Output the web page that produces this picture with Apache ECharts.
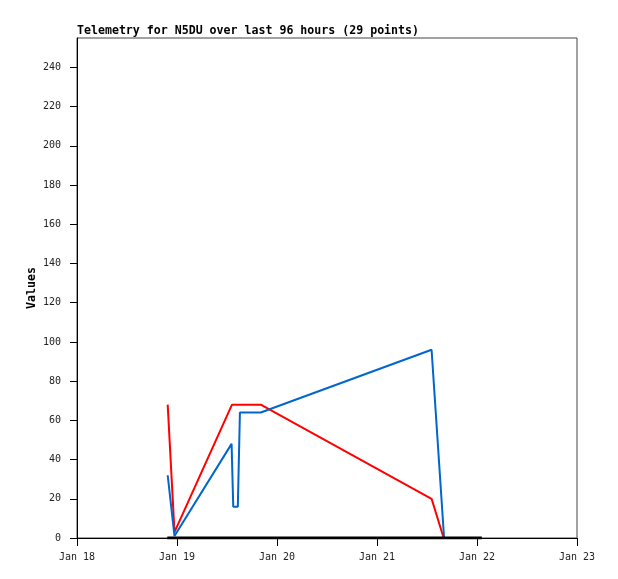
<!DOCTYPE html>
<html>
<head>
<meta charset="utf-8">
<script src="https://cdn.jsdelivr.net/npm/echarts@6/dist/echarts.min.js"></script>
<style>html,body{margin:0;padding:0;background:#fff}#c{width:618px;height:579px}</style>
</head>
<body>
<div id="c"></div>
<script>
// Data
var xTickLabels = ['Jan 18', 'Jan 19', 'Jan 20', 'Jan 21', 'Jan 22', 'Jan 23'];
var yTicks = [0, 20, 40, 60, 80, 100, 120, 140, 160, 180, 200, 220, 240];
var yAxisTitle = 'Values';

var redTimes  = ['2024-01-18 21:46', '2024-01-18 23:24', '2024-01-19 13:12', '2024-01-19 20:06', '2024-01-21 13:06', '2024-01-21 16:00'];
var redValues = [68, 3, 68, 68, 20, 0];

var blueTimes  = ['2024-01-18 21:46', '2024-01-18 23:24', '2024-01-19 13:06', '2024-01-19 13:30', '2024-01-19 14:36', '2024-01-19 15:06', '2024-01-19 20:06', '2024-01-21 13:06', '2024-01-21 16:06'];
var blueValues = [32, 1, 48, 16, 16, 64, 64, 96, 0];

var blackTimes  = ['2024-01-18 21:40', '2024-01-22 01:10'];
var blackValues = [0, 0];

function toMs(s) {
  var p = s.split(/[- :]/).map(Number);
  return Date.UTC(p[0], p[1] - 1, p[2], p[3], p[4]);
}
function pairs(t, v) { return t.map(function (d, i) { return [toMs(d), v[i]]; }); }

var DAY = 86400000;
var xMin = Date.UTC(2024, 0, 18);
var xMax = Date.UTC(2024, 0, 23);
var mono = 'DejaVu Sans Mono';

var chart = echarts.init(document.getElementById('c'), null, { renderer: 'canvas' });
chart.setOption({
  animation: false,
  backgroundColor: '#ffffff',
  title: {
    text: 'Telemetry for N5DU over last 96 hours (29 points)',
    left: 77, top: 25, padding: 0,
    textStyle: { fontFamily: mono, fontWeight: 'bold', fontSize: 11.6, color: '#000' }
  },
  graphic: [{
    type: 'text', x: 32, y: 288, rotation: Math.PI / 2,
    style: { text: yAxisTitle, fontFamily: mono, fontWeight: 'bold', fontSize: 11.6, fill: '#000', align: 'center', verticalAlign: 'middle' }
  }],
  grid: { left: 77, top: 38, width: 500, height: 500, show: true, borderColor: '#444', borderWidth: 1, backgroundColor: 'transparent' },
  xAxis: {
    type: 'value', min: xMin, max: xMax, interval: DAY,
    axisLine: { show: true, onZero: false, lineStyle: { color: '#000', width: 1 } },
    axisTick: { show: true, length: 8, lineStyle: { color: '#000' } },
    splitLine: { show: false },
    axisLabel: {
      margin: 14, fontFamily: mono, fontSize: 10, color: '#222',
      formatter: function (v) { return xTickLabels[Math.round((v - xMin) / DAY)]; }
    }
  },
  yAxis: {
    type: 'value', min: 0, max: 255,
    axisLine: { show: true, lineStyle: { color: '#000', width: 1 } },
    axisTick: { show: true, length: 7, customValues: yTicks, lineStyle: { color: '#000' } },
    splitLine: { show: false },
    axisLabel: { margin: 16, fontFamily: mono, fontSize: 10, color: '#222', customValues: yTicks }
  },
  series: [
    { type: 'line', data: pairs(redTimes, redValues), showSymbol: false, lineStyle: { color: '#ff0000', width: 2 }, z: 3 },
    { type: 'line', data: pairs(blueTimes, blueValues), showSymbol: false, lineStyle: { color: '#0066cc', width: 2 }, z: 4 },
    { type: 'line', data: pairs(blackTimes, blackValues), showSymbol: false, lineStyle: { color: '#000000', width: 3 }, z: 5 }
  ]
});
</script>
</body>
</html>
